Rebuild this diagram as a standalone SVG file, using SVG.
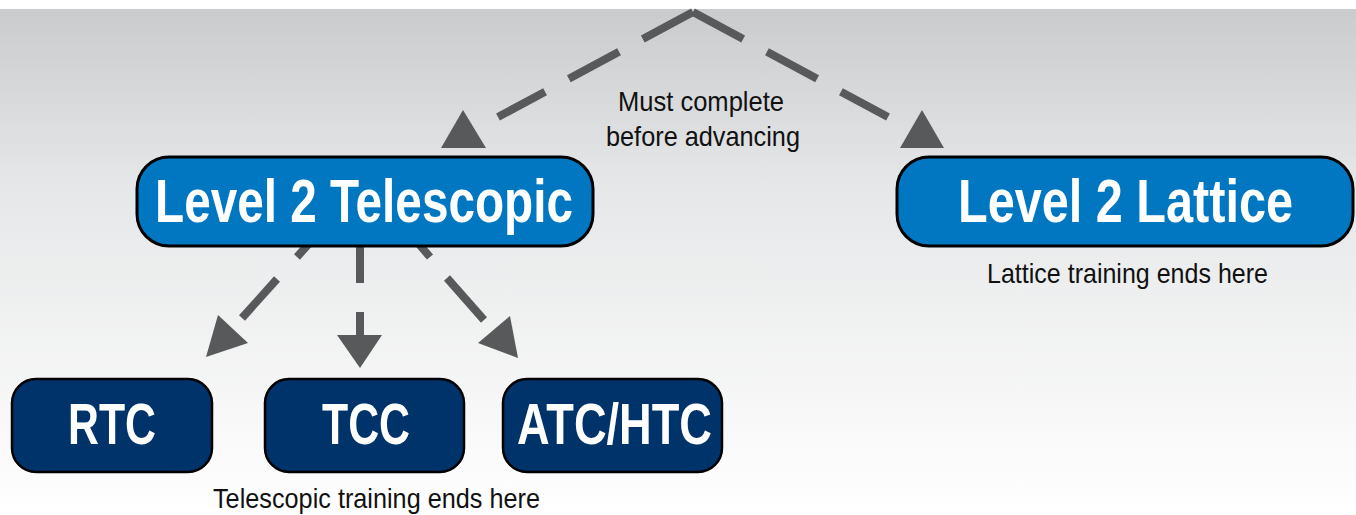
<svg xmlns="http://www.w3.org/2000/svg" width="1356" height="515" viewBox="0 0 1356 515">
<defs>
<linearGradient id="bg" x1="0" y1="9" x2="0" y2="515" gradientUnits="userSpaceOnUse">
<stop offset="0" stop-color="#cacbcd"/>
<stop offset="0.35" stop-color="#e6e7e8"/>
<stop offset="1" stop-color="#ffffff"/>
</linearGradient>
<style>
.conn{stroke:#58595b;stroke-width:8;fill:none;stroke-linecap:butt}
.head{fill:#58595b}
.l2{fill:#0077c0;stroke:#000;stroke-width:3}
.l3{fill:#003369;stroke:#000;stroke-width:2.5}
.big{font-family:"Liberation Sans",Arial,sans-serif;font-weight:bold;fill:#fff;text-anchor:middle}
.note{font-family:"Liberation Sans",Arial,sans-serif;font-size:28px;fill:#111;text-anchor:middle}
</style>
</defs>
<rect x="0" y="0" width="1356" height="515" fill="#ffffff"/>
<rect x="0" y="9" width="1356" height="506" fill="url(#bg)"/>
<g id="connectors">
<path class="conn" d="M693,12 L498,117" stroke-dasharray="57 27"/>
<path class="conn" d="M693,12 L888,117" stroke-dasharray="57 27"/>
<polygon class="head" points="463,110 441,148 486,148"/>
<polygon class="head" points="922,110 900,148 944,148"/>
<line class="conn" x1="322" y1="229" x2="297" y2="257"/>
<line class="conn" x1="277" y1="279" x2="242" y2="318"/>
<polygon class="head" points="206,357 248,343 218,315"/>
<line class="conn" x1="360" y1="235" x2="360" y2="283"/>
<line class="conn" x1="360" y1="312" x2="360" y2="337"/>
<polygon class="head" points="360,368 337,335 382,335"/>
<line class="conn" x1="406" y1="229" x2="430" y2="257"/>
<line class="conn" x1="447" y1="278" x2="484" y2="320"/>
<polygon class="head" points="518,358 510,316 478,343"/>
<text class="note" x="701" y="111" textLength="166" lengthAdjust="spacingAndGlyphs">Must complete</text>
<text class="note" x="703" y="146" textLength="194" lengthAdjust="spacingAndGlyphs">before advancing</text>
</g>
<g id="node-telescopic">
<rect class="l2" x="137" y="157" width="456" height="89" rx="32"/>
<text class="big" x="364" y="222" font-size="61" textLength="418" lengthAdjust="spacingAndGlyphs">Level 2 Telescopic</text>
</g>
<g id="node-lattice">
<rect class="l2" x="897" y="157" width="456" height="89" rx="32"/>
<text class="big" x="1125.5" y="222" font-size="61" textLength="335" lengthAdjust="spacingAndGlyphs">Level 2 Lattice</text>
<text class="note" x="1127.5" y="283" textLength="281" lengthAdjust="spacingAndGlyphs">Lattice training ends here</text>
</g>
<g id="node-rtc">
<rect class="l3" x="12" y="379" width="200" height="93" rx="24"/>
<text class="big" x="112" y="444" font-size="57" textLength="88" lengthAdjust="spacingAndGlyphs">RTC</text>
</g>
<g id="node-tcc">
<rect class="l3" x="265" y="379" width="199" height="93" rx="24"/>
<text class="big" x="366" y="444" font-size="57" textLength="88" lengthAdjust="spacingAndGlyphs">TCC</text>
</g>
<g id="node-atc">
<rect class="l3" x="503" y="379" width="219" height="93" rx="24"/>
<text class="big" x="614.5" y="444" font-size="57" textLength="195" lengthAdjust="spacingAndGlyphs">ATC/HTC</text>
</g>
<text class="note" x="376.5" y="508" textLength="327" lengthAdjust="spacingAndGlyphs">Telescopic training ends here</text>
</svg>
